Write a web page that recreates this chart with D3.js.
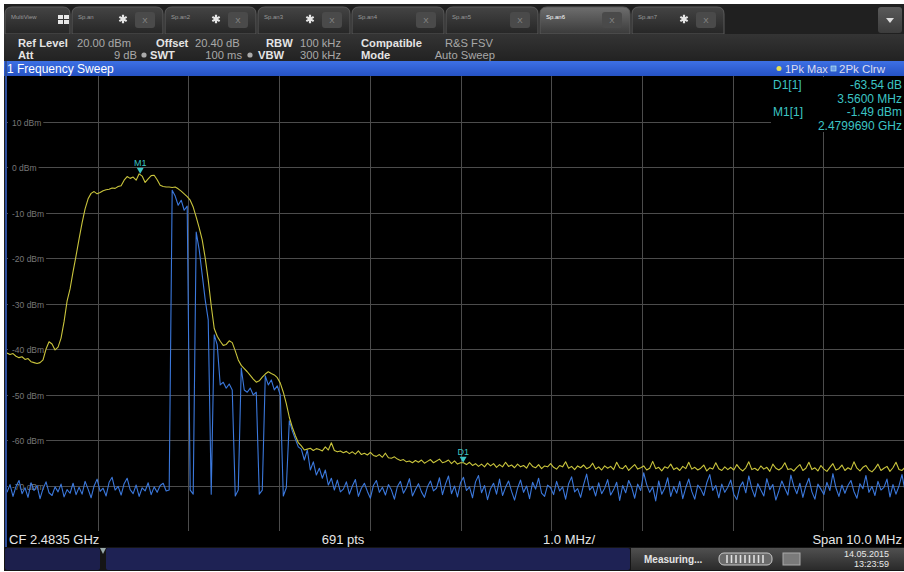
<!DOCTYPE html>
<html><head><meta charset="utf-8">
<script src="https://cdn.jsdelivr.net/npm/d3@7/dist/d3.min.js"></script>
<style>
body{margin:0;background:#fff;overflow:hidden}
svg{display:block}
text{font-family:"Liberation Sans",Arial,sans-serif}
</style>
</head><body>
<svg id="c" width="904" height="572"></svg>
<script>
// ---------------- DATA ----------------
const centerFreqGHz = 2.4835;
const spanMHz = 10.0;
const yTickValues = [10, 0, -10, -20, -30, -40, -50, -60, -70];
const yTickLabels = ["10 dBm", "0 dBm", "-10 dBm", "-20 dBm", "-30 dBm", "-40 dBm", "-50 dBm", "-60 dBm", "-70 dBm"];
const yRange = [-80, 20];
const freqDivisions = [0, 1, 2, 3, 4, 5, 6, 7, 8, 9, 10];

// Trace 1: 1Pk Max (yellow), dBm
const trace1PkMax = [
-40.9,-41.2,-41.0,-41.6,-41.9,-41.7,-42.3,-42.1,-42.8,-43.0,-43.2,-43.0,-42.4,
-40.0,-38.4,-38.9,-40.2,-39.6,-37.6,-34.0,-29.5,-26.8,-23.0,-19.5,-15.8,-12.3,-9.2,-7.0,
-5.8,-5.4,-5.9,-5.6,-5.2,-5.0,-4.9,-4.6,-4.7,-4.3,-4.1,
-2.9,-2.1,-2.5,-2.2,-2.9,-1.5,-2.0,-3.4,-2.6,-1.9,-1.8,-2.8,
-4.0,-4.3,-4.4,-4.4,-4.5,-4.4,-4.8,-5.3,-5.9,-6.5,-7.3,-8.8,-11.0,-13.4,-16.0,-20.0,-24.8,
-30.5,-35.5,-37.2,-38.3,-39.2,-39.0,-38.2,-38.6,-40.4,-42.4,-43.6,-44.3,-45.0,-45.8,-46.6,-47.3,-47.0,-46.2,-45.5,-45.0,-45.4,-45.7,-46.3,-47.5,
-49.5,-52.0,-55.0,-57.2,-59.0,-60.6,-61.3,-62.2,-62.0,-61.8,-62.3,-61.9,-62.1,-62.4,-61.5,-62.2,-60.6,-62.3,-62.6,-62.4,
-62.8,-62.5,-63.0,-62.6,-63.1,-62.4,-63.2,-62.9,-63.3,-62.7,-63.4,-63.6,-63.2,-63.8,-62.9,-63.9,-64.0,-63.7,-64.2,-64.5,
-64.3,-64.8,-64.6,-65.0,-64.5,-64.9,-64.4,-65.1,-64.7,-64.3,-65.0,-64.6,-64.2,-65.0,-64.8,-64.4,-65.2,-64.6,-65.3,-65.0,
-65.0,-65.4,-64.9,-65.6,-65.2,-65.8,-65.3,-65.9,-65.1,
-65.7,-65.2,-66.0,-65.4,-65.9,-64.9,-65.8,-65.5,-66.1,-65.3,
-65.9,-65.6,-66.2,-65.0,-65.8,-66.1,-65.4,-66.3,-65.7,-65.9,
-65.2,-66.0,-66.4,-65.6,-65.9,-64.8,-66.2,-65.8,-66.5,-65.7,
-66.1,-65.5,-66.3,-66.0,-65.1,-66.4,-65.9,-66.6,-65.7,-66.2,
-65.8,-66.5,-64.9,-66.1,-66.3,-65.6,-66.7,-66.0,-65.4,-66.4,
-66.1,-65.7,-66.6,-66.2,-64.7,-66.3,-66.0,-66.8,-65.9,-66.2,
-65.3,-66.5,-66.1,-66.7,-65.8,-66.3,-64.9,-66.4,-66.0,-66.6,
-66.2,-65.5,-66.8,-66.1,-66.4,-65.0,-66.3,-66.7,-65.9,-66.5,
-66.0,-66.6,-65.4,-66.3,-66.8,-66.1,-64.8,-66.5,-66.2,-66.7,
-65.7,-66.4,-66.0,-66.9,-65.3,-66.2,-66.6,-66.1,-65.0,-66.5,
-66.3,-66.8,-66.0,-65.4,-66.7,-66.2,-64.9,-66.5,-66.1,-66.8,
-65.6,-66.4,-66.9,-66.0,-65.2,-66.6,-66.3,-65.5,-66.7,-66.1,
-66.5,-64.8,-66.2,-66.8,-66.0,-65.6,-66.6,-67.0,-66.3,-65.3,
-66.7,-66.2,-65.8,-66.9,-66.1,-64.9,-66.5,-66.7,-66.0,-66.4,
-66.8,-66.3
];

// Trace 2: 2Pk Clrw (blue), dBm
const trace2PkClrw = [
-71.5,-69.8,-72.4,-70.2,-68.9,-71.8,-70.5,-72.6,-69.4,-71.1,
-70.0,-72.9,-70.7,-69.2,-71.6,-72.2,-70.3,-71.4,-69.7,-72.5,
-70.9,-71.7,-69.5,-72.0,-70.4,-71.9,-69.1,-70.8,-72.7,-70.1,
-68.6,-71.3,-70.6,-72.3,-69.3,-68.2,-71.0,-70.2,-72.1,-69.6,
-68.4,-70.9,-71.8,-69.9,-72.4,-70.5,-71.2,-69.4,-72.0,-70.3,
-71.5,-70.0,-69.5,-71.2,-71.0,
-5.1,-6.4,-8.4,-7.3,-9.5,-8.6,
-71.0,-71.9,
-14.3,-18.2,-23.7,-29.2,-33.6,
-71.9,
-36.9,-39.1,-47.9,-47.3,-48.6,-47.7,-49.0,
-72.3,-71.0,
-44.2,-49.0,-49.5,-48.6,-50.1,-49.5,
-71.9,-71.0,
-45.9,-47.9,-46.8,-49.0,-48.1,-50.1,
-72.3,-70.5,
-55.8,-58.0,-59.8,-61.5,-62.0,-64.4,-62.2,-66.6,-64.8,-67.7,-66.2,-68.4,-66.6,-69.9,-68.4,-71.0,-68.8,-71.4,
-70.8,-69.2,-71.9,-70.1,-68.7,-72.4,-70.6,-69.5,-71.3,-72.8,
-70.0,-68.9,-71.5,-70.4,-72.1,-69.8,-71.0,-73.0,-70.2,-69.1,
-71.7,-70.5,-68.5,-72.3,-70.9,-69.6,-71.4,-72.6,-70.3,-69.0,
-71.2,-70.6,-68.3,-72.0,-69.7,-67.9,-71.8,-70.1,-72.5,-69.4,
-68.2,-71.1,-70.3,-72.7,-69.2,-67.8,-71.6,-70.0,-73.1,-70.7,
-69.5,-71.9,-68.6,-72.2,-70.4,-69.0,-71.3,-73.2,-70.6,-68.8,
-71.5,-70.1,-72.9,-69.3,-70.8,-68.4,-71.7,-72.4,-69.9,-70.5,
-72.0,-69.1,-71.2,-70.3,-73.0,-69.6,-68.1,-71.4,-70.7,-72.6,
-69.8,-67.5,-71.0,-70.2,-72.3,-69.4,-71.8,-70.6,-68.7,-72.1,
-70.9,-69.3,-73.3,-70.0,-71.6,-68.9,-70.4,-72.8,-69.7,-71.1,
-67.2,-69.8,-71.5,-70.3,-73.4,-69.0,-71.9,-70.6,-68.3,-72.4,
-70.2,-71.7,-69.1,-72.9,-70.5,-68.6,-71.3,-73.0,-69.9,-70.8,
-72.2,-69.4,-67.6,-71.1,-70.0,-72.7,-69.7,-71.5,-70.4,-68.8,
-71.9,-73.1,-70.3,-69.2,-71.6,-67.9,-70.7,-72.5,-69.6,-71.0,
-72.3,-68.5,-70.9,-69.8,-73.2,-71.2,-69.0,-70.6,-72.1,-67.7,
-70.2,-71.8,-69.5,-72.6,-70.1,-68.4,-71.4,-73.0,-69.7,-70.8,
-72.0,-69.3,-71.1,-67.4,-70.5,-72.4,-69.9,-71.7,-70.0,-68.9,
-71.3,-72.8,-69.6,-70.7,-67.8,-71.5,-70.2,-72.2,-69.1,-71.0,
-70.4,-68.6,-72.5,-69.8,-71.9,-70.1,-67.6,-71.2,-70.6,-72.0,
-70.3
];

const markerNames = ["M1", "D1"];
const markerFreqsGHz = [2.4799690, 2.4835290];
const markerPanelRows = [["D1[1]", "-63.54 dB"], ["", "3.5600 MHz"], ["M1[1]", "-1.49 dBm"], ["", "2.4799690 GHz"]];
const tabNames = ["MultiView", "Sp.an", "Sp.an2", "Sp.an3", "Sp.an4", "Sp.an5", "Sp.an6", "Sp.an7"];
const tabHasStar = [false, true, true, true, false, false, false, true];
const activeTab = 6;
const headerRow1 = [["Ref Level", true], ["20.00 dBm", false], ["Offset", true], ["20.40 dB", false], ["RBW", true], ["100 kHz", false], ["Compatible", true], ["R&S FSV", false]];
const headerRow2 = [["Att", true], ["9 dB", false], ["SWT", true], ["100 ms", false], ["VBW", true], ["300 kHz", false], ["Mode", true], ["Auto Sweep", false]];
const bottomLabels = ["CF 2.4835 GHz", "691 pts", "1.0 MHz/", "Span 10.0 MHz"];
const statusTexts = ["Measuring...", "14.05.2015", "13:23:59"];
const legendLabels = ["1Pk Max", "2Pk Clrw"];
const windowTitle = "1 Frequency Sweep";

// ---------------- LAYOUT ----------------
const svg = d3.select("#c");
const P = {l: 7, r: 914, t: 76, b: 531};
const fStart = centerFreqGHz - spanMHz / 2000, fStop = centerFreqGHz + spanMHz / 2000;
const x = d3.scaleLinear().domain([fStart, fStop]).range([P.l, P.r]);
const y = d3.scaleLinear().domain(yRange).range([P.b, P.t]);
const divScale = d3.scaleLinear().domain([0, 10]).range([fStart, fStop]);
const yellow = "#c9c43c", blue = "#3b78dc", teal = "#3cc4c4";

const defs = svg.append("defs");
function grad(id, stops) {
  const g = defs.append("linearGradient").attr("id", id).attr("x1", 0).attr("y1", 0).attr("x2", 0).attr("y2", 1);
  stops.forEach(s => g.append("stop").attr("offset", s[0]).attr("stop-color", s[1]));
}
grad("gTab", [[0, "#444"], [1, "#262626"]]);
grad("gTabA", [[0, "#6e6e6e"], [1, "#3a3a3a"]]);
grad("gHdr", [[0, "#343434"], [1, "#222"]]);
grad("gBar", [[0, "#3d70e4"], [1, "#2552c4"]]);
grad("gStat", [[0, "#505050"], [1, "#2a2a2a"]]);
grad("gBtn", [[0, "#5a5a5a"], [1, "#3c3c3c"]]);
defs.append("clipPath").attr("id", "plotClip").append("rect")
  .attr("x", P.l).attr("y", P.t).attr("width", P.r - P.l).attr("height", P.b - P.t);

// app background
svg.append("rect").attr("x", 4).attr("y", 4).attr("width", 900).attr("height", 567).attr("fill", "#1c1c1c");

// ---- tabs ----
const tabX = [5, 72, 165, 258, 352, 446, 540, 632];
const tabW = [65, 91, 91, 92, 92, 92, 90, 92];
svg.append("rect").attr("x", 4).attr("y", 4).attr("width", 900).attr("height", 30).attr("fill", "#202020");
const tg = svg.append("g").selectAll("g").data(tabNames).join("g")
  .attr("transform", (d, i) => `translate(${tabX[i]},7)`);
tg.append("path").attr("d", (d, i) => {
  const w = tabW[i], h = 27, r = 7;
  return `M0,${h}L0,${r}Q0,0 ${r},0L${w - r},0Q${w},0 ${w},${r}L${w},${h}Z`;
}).attr("fill", (d, i) => i === activeTab ? "url(#gTabA)" : "url(#gTab)")
  .attr("stroke", "#5a5a5a").attr("stroke-width", 1);
tg.append("text").attr("x", 6).attr("y", 12).attr("font-size", 6)
  .attr("fill", (d, i) => i === activeTab ? "#fff" : "#999").text(d => d);
tg.filter((d, i) => i > 0).append("rect").attr("x", (d, i) => tabW[i + 1] - 28).attr("y", 5)
  .attr("width", 20).attr("height", 16).attr("rx", 3).attr("fill", "#4a4a4a");
tg.filter((d, i) => i > 0).append("text").attr("x", (d, i) => tabW[i + 1] - 18).attr("y", 16)
  .attr("text-anchor", "middle").attr("font-size", 8).attr("fill", "#8a8a8a").text("X");
tg.filter((d, i) => tabHasStar[i]).append("path")
  .attr("transform", function(d) { const i = tabNames.indexOf(d); return `translate(${tabW[i] - 40},12)`; })
  .attr("d", d3.symbol(d3.symbolAsterisk, 50)()).attr("stroke", "#e6e6e6").attr("stroke-width", 2.2).attr("fill", "none");
// multiview grid icon
const mv = svg.append("g").attr("transform", "translate(58,15)");
[[0,0],[6,0],[0,5],[6,5]].forEach(p => mv.append("rect").attr("x", p[0]).attr("y", p[1]).attr("width", 5).attr("height", 4).attr("fill", "#e8e8e8"));
// dropdown
svg.append("rect").attr("x", 878).attr("y", 7).attr("width", 24).attr("height", 26).attr("rx", 3).attr("fill", "url(#gBtn)");
svg.append("path").attr("d", "M886,18L894,18L890,23Z").attr("fill", "#ddd");

// ---- header ----
svg.append("rect").attr("x", 4).attr("y", 34).attr("width", 900).attr("height", 27).attr("fill", "url(#gHdr)");
const r1x = [[18, "start"], [77, "start"], [156, "start"], [195, "start"], [266, "start"], [300, "start"], [361, "start"], [445, "start"]];
const r2x = [[18, "start"], [137, "end"], [150, "start"], [242, "end"], [258, "start"], [300, "start"], [361, "start"], [495, "end"]];
function hdrRow(rows, pos, yy) {
  svg.append("g").selectAll("text").data(rows).join("text")
    .attr("x", (d, i) => pos[i][0]).attr("y", yy).attr("text-anchor", (d, i) => pos[i][1])
    .attr("font-size", 11.2).attr("font-weight", d => d[1] ? "bold" : "normal")
    .attr("fill", d => d[1] ? "#e4e4e4" : "#a8a8a8").text(d => d[0]);
}
hdrRow(headerRow1, r1x, 47);
hdrRow(headerRow2, r2x, 58.5);
[144, 250].forEach(cx => svg.append("circle").attr("cx", cx).attr("cy", 55).attr("r", 2.6).attr("fill", "#aaa"));

// ---- blue title bar ----
svg.append("rect").attr("x", 4).attr("y", 61).attr("width", 900).attr("height", 15).attr("fill", "url(#gBar)");
svg.append("text").attr("x", 7).attr("y", 73).attr("font-size", 12).attr("fill", "#fff").text(windowTitle);
svg.append("circle").attr("cx", 779).attr("cy", 68.5).attr("r", 2.5).attr("fill", "#e8e050");
svg.append("text").attr("x", 785).attr("y", 73).attr("font-size", 11).attr("fill", "#dde").text(legendLabels[0]);
svg.append("rect").attr("x", 831).attr("y", 66).attr("width", 5).attr("height", 5).attr("fill", "#6a9ae8").attr("stroke", "#cfe").attr("stroke-width", 0.6);
svg.append("text").attr("x", 839).attr("y", 73).attr("font-size", 11.5).attr("fill", "#dde").text(legendLabels[1]);

// ---- plot ----
svg.append("rect").attr("x", P.l).attr("y", P.t).attr("width", 904 - P.l).attr("height", P.b - P.t + 16).attr("fill", "#000");
const grid = svg.append("g").attr("stroke", "#4c4c4c").attr("stroke-width", 1);
grid.selectAll("line.v").data(freqDivisions.slice(1, 10)).join("line").attr("class", "v")
  .attr("x1", d => Math.round(x(divScale(d))) + 0.5).attr("x2", d => Math.round(x(divScale(d))) + 0.5)
  .attr("y1", P.t).attr("y2", P.b);
grid.selectAll("line.h").data(yTickValues).join("line").attr("class", "h")
  .attr("x1", P.l).attr("x2", 904).attr("y1", d => Math.round(y(d)) + 0.5).attr("y2", d => Math.round(y(d)) + 0.5);
// y labels with black background
const yl = svg.append("g").selectAll("g").data(yTickValues).join("g")
  .attr("transform", d => `translate(12,${Math.round(y(d)) + 0.5})`);
yl.append("rect").attr("x", -4).attr("y", -5).attr("height", 10).attr("fill", "#000");
yl.append("text").attr("y", 3).attr("font-size", 8.5).attr("fill", "#777").text((d, i) => yTickLabels[i]);
yl.each(function() { const g = d3.select(this); const w = g.select("text").node().getComputedTextLength(); g.select("rect").attr("width", w + 6); });

// marker panel background
svg.append("rect").attr("x", 771).attr("y", P.t + 1).attr("width", 140).attr("height", 55).attr("fill", "#000");
const mp = svg.append("g").attr("font-size", 12).attr("fill", teal);
markerPanelRows.forEach((r, i) => {
  const yy = 89 + i * 13.7;
  if (r[0]) mp.append("text").attr("x", 773).attr("y", yy).text(r[0]);
  mp.append("text").attr("x", 902).attr("y", yy).attr("text-anchor", "end").text(r[1]);
});

// traces
const tr = svg.append("g").attr("clip-path", "url(#plotClip)");
function drawTrace(vals, color, w) {
  const idx = d3.scaleLinear().domain([0, vals.length - 1]).range([fStart, fStop]);
  tr.append("path").datum(vals)
    .attr("d", d3.line().x((d, i) => x(idx(i))).y(d => y(d)))
    .attr("fill", "none").attr("stroke", color).attr("stroke-width", w).attr("stroke-linejoin", "round");
}
drawTrace(trace2PkClrw, blue, 1.1);
drawTrace(trace1PkMax, yellow, 1.1);

// left border
svg.append("line").attr("x1", 6).attr("x2", 6).attr("y1", 61).attr("y2", 547).attr("stroke", "#2f4f9c").attr("stroke-width", 2);

// markers
const mIdx = d3.scaleLinear().domain([fStart, fStop]).range([0, trace1PkMax.length - 1]);
const mk = svg.append("g").selectAll("g").data(markerNames).join("g")
  .attr("transform", (d, i) => {
    const f = markerFreqsGHz[i];
    const v = trace1PkMax[Math.round(mIdx(f))];
    return `translate(${x(f)},${y(v)})`;
  });
mk.append("path").attr("d", "M-3.5,-6L3.5,-6L0,0Z").attr("fill", teal);
mk.append("text").attr("y", -8).attr("text-anchor", "middle").attr("font-size", 9).attr("fill", teal).text(d => d);

// bottom info bar
const bx = [[9, "start"], [343, "middle"], [543, "start"], [902, "end"]];
svg.append("g").selectAll("text").data(bottomLabels).join("text")
  .attr("x", (d, i) => bx[i][0]).attr("y", 544).attr("text-anchor", (d, i) => bx[i][1])
  .attr("font-family", "'Liberation Sans Narrow','DejaVu Sans Condensed',sans-serif")
  .attr("font-size", 13).attr("fill", "#e6e6e6").text(d => d);

// status bar
svg.append("rect").attr("x", 4).attr("y", 547).attr("width", 900).attr("height", 24).attr("fill", "#151515");
svg.append("rect").attr("x", 5).attr("y", 548).attr("width", 95).attr("height", 22).attr("rx", 2).attr("fill", "#1c1f4c");
svg.append("rect").attr("x", 106).attr("y", 548).attr("width", 524).attr("height", 22).attr("rx", 2).attr("fill", "#1e2254");
svg.append("path").attr("d", "M100,548L106,548L103,554Z").attr("fill", "#9aa");
svg.append("rect").attr("x", 631).attr("y", 548).attr("width", 273).attr("height", 22).attr("fill", "url(#gStat)");
svg.append("text").attr("x", 644).attr("y", 563).attr("font-size", 10).attr("font-weight", "bold")
  .attr("font-family", "'Liberation Sans Narrow','DejaVu Sans Condensed',sans-serif").attr("fill", "#e4e4e4").text(statusTexts[0]);
svg.append("rect").attr("x", 719).attr("y", 553).attr("width", 53).attr("height", 12).attr("rx", 5).attr("fill", "#6a6a6a").attr("stroke", "#c8c8c8");
svg.append("g").selectAll("line").data(d3.range(9)).join("line")
  .attr("x1", d => 727 + d * 4.5).attr("x2", d => 727 + d * 4.5).attr("y1", 555).attr("y2", 563)
  .attr("stroke", "#e0e0e0").attr("stroke-width", 1.6);
svg.append("rect").attr("x", 783).attr("y", 553).attr("width", 17).attr("height", 12).attr("fill", "#7a7a7a").attr("stroke", "#aaa");
svg.append("text").attr("x", 889).attr("y", 557).attr("text-anchor", "end").attr("font-size", 9)
  .attr("font-family", "'Liberation Sans Narrow','DejaVu Sans Condensed',sans-serif").attr("fill", "#e8e8e8").text(statusTexts[1]);
svg.append("text").attr("x", 889).attr("y", 567).attr("text-anchor", "end").attr("font-size", 9)
  .attr("font-family", "'Liberation Sans Narrow','DejaVu Sans Condensed',sans-serif").attr("fill", "#e8e8e8").text(statusTexts[2]);
</script>
</body></html>
